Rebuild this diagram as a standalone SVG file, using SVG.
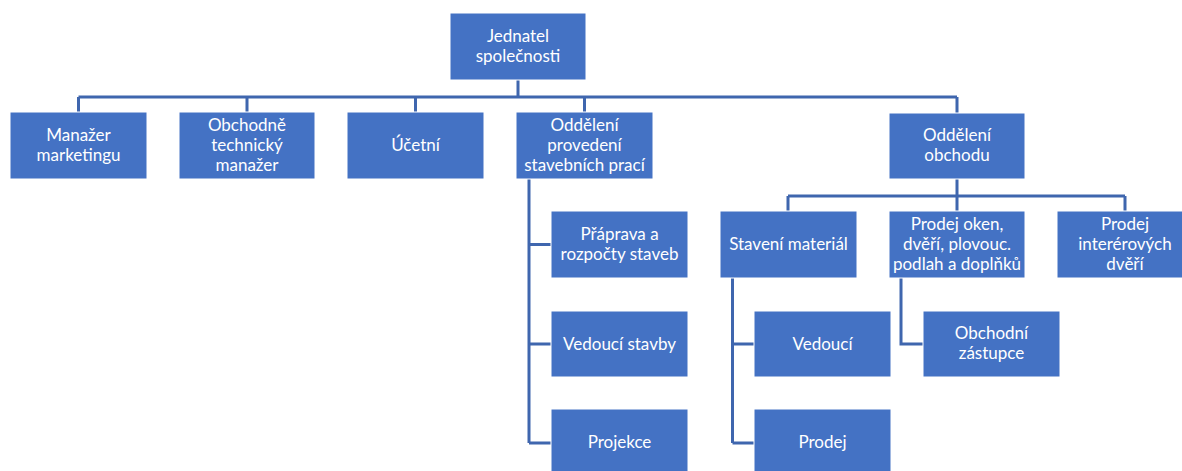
<svg xmlns="http://www.w3.org/2000/svg" width="1182" height="471" viewBox="0 0 1182 471">
<style>
.b{fill:#4472C4;stroke:#ffffff;stroke-width:1}
.t{font-family:Lato,"Liberation Sans",sans-serif;font-size:17px;fill:#ffffff;text-anchor:middle}
.c{fill:none;stroke:#3F66AE;stroke-width:3}
</style>
<rect width="1182" height="471" fill="#ffffff"/>
<g id="connectors">
<path class="c" d="M518 80V97M78.5 97H957M78.5 97V112M247 97V112M415.5 97V112M584.5 97V112M957 97V113"/>
<path class="c" d="M529 179V443M529 244.5H551M529 344H551M529 443H551"/>
<path class="c" d="M957 179V196M788 196H1125M788 196V211M957 196V211M1125 196V211"/>
<path class="c" d="M732.5 278V443M732.5 344H754M732.5 443H754"/>
<path class="c" d="M901 278V344H923"/>
</g>
<g id="n-jednatel"><rect class="b" x="450" y="13" width="136" height="67"/><text class="t" x="518" y="42">Jednatel</text><text class="t" x="518" y="62">společnosti</text></g>
<g id="n-marketing"><rect class="b" x="10" y="112" width="137" height="67"/><text class="t" x="78.5" y="141">Manažer</text><text class="t" x="78.5" y="161">marketingu</text></g>
<g id="n-obchodne"><rect class="b" x="179" y="112" width="136" height="67"/><text class="t" x="247" y="131">Obchodně</text><text class="t" x="247" y="151">technický</text><text class="t" x="247" y="171">manažer</text></g>
<g id="n-ucetni"><rect class="b" x="347" y="112" width="137" height="67"/><text class="t" x="415.5" y="151">Účetní</text></g>
<g id="n-provedeni"><rect class="b" x="516" y="112" width="137" height="67"/><text class="t" x="584.5" y="131">Oddělení</text><text class="t" x="584.5" y="151">provedení</text><text class="t" x="584.5" y="171">stavebních prací</text></g>
<g id="n-obchod"><rect class="b" x="889" y="113" width="136" height="66"/><text class="t" x="957" y="141">Oddělení</text><text class="t" x="957" y="161">obchodu</text></g>
<g id="n-priprava"><rect class="b" x="551" y="211" width="137" height="67"/><text class="t" x="619.5" y="240">Přáprava a</text><text class="t" x="619.5" y="260">rozpočty staveb</text></g>
<g id="n-vedouci-stavby"><rect class="b" x="551" y="311" width="137" height="66"/><text class="t" x="619.5" y="349.5">Vedoucí stavby</text></g>
<g id="n-projekce"><rect class="b" x="551" y="409" width="137" height="67"/><text class="t" x="619.5" y="448">Projekce</text></g>
<g id="n-staveni"><rect class="b" x="720" y="211" width="137" height="67"/><text class="t" x="788.5" y="250">Stavení materiál</text></g>
<g id="n-prodej-oken"><rect class="b" x="889" y="211" width="136" height="67"/><text class="t" x="957" y="230">Prodej oken,</text><text class="t" x="957" y="250">dvěří, plovouc.</text><text class="t" x="957" y="270">podlah a doplňků</text></g>
<g id="n-prodej-int"><rect class="b" x="1057" y="211" width="136" height="67"/><text class="t" x="1125" y="230">Prodej</text><text class="t" x="1125" y="250">interérových</text><text class="t" x="1125" y="270">dvěří</text></g>
<g id="n-vedouci"><rect class="b" x="754" y="311" width="137" height="66"/><text class="t" x="822.5" y="349.5">Vedoucí</text></g>
<g id="n-prodej"><rect class="b" x="754" y="409" width="137" height="67"/><text class="t" x="822.5" y="448">Prodej</text></g>
<g id="n-zastupce"><rect class="b" x="923" y="311" width="137" height="66"/><text class="t" x="991.5" y="339">Obchodní</text><text class="t" x="991.5" y="359">zástupce</text></g>
</svg>
